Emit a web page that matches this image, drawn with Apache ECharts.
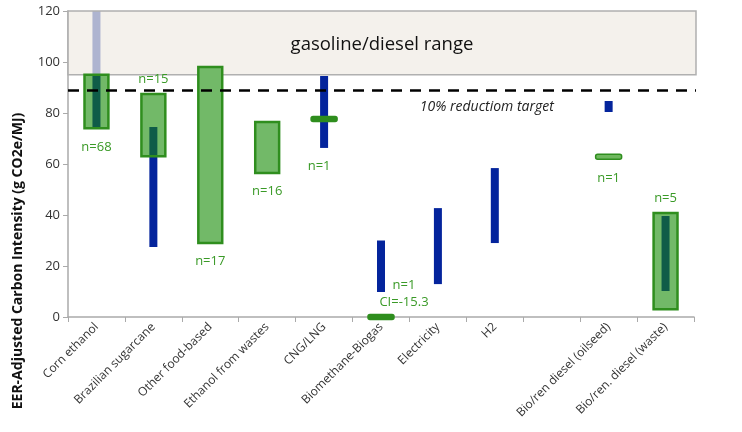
<!DOCTYPE html>
<html>
<head>
<meta charset="utf-8">
<script src="https://cdn.jsdelivr.net/npm/echarts@6/dist/echarts.min.js"></script>
<style>
  html, body { margin: 0; padding: 0; background: #fff; }
  #chart { width: 742px; height: 432px; }
</style>
</head>
<body>
<div id="chart"></div>
<script>
// data
var categories = ['Corn ethanol', 'Brazilian sugarcane', 'Other food-based', 'Ethanol from wastes',
  'CNG/LNG', 'Biomethane-Biogas', 'Electricity', 'H2', '', 'Bio/ren diesel (oilseed)', 'Bio/ren. diesel (waste)'];
// green boxes (spread of pathways)
var boxLow  = [74, 63, 29, 56.5, null, null, null, null, null, null, 3];
var boxHigh = [95, 87.5, 98, 76.5, null, null, null, null, null, null, 40.8];
// blue bars
var barLow  = [74, 27.5, null, null, 66.3, 9.8, 12.9, 29, null, 80.4, 10.2];
var barHigh = [120, 74.5, null, null, 94.5, 30, 42.7, 58.4, null, 84.7, 39.6];
// single pathways (n=1)
var singleValue = [null, null, null, null, 77.6, 0, null, null, null, 62.8, null];
var countLabels = ['n=68', 'n=15', 'n=17', 'n=16', 'n=1', 'n=1\nCI=-15.3', null, null, null, 'n=1', 'n=5'];
var gasolineRange = [95, 120];
var reductionTarget = 88.8;

var FONT = '"Open Sans", "Noto Sans", sans-serif';
var GREEN = '#2f8e1e';
var labelAbove = { 1: true, 5: true, 10: true };
var labelOnTick = { 5: true };
var labelShiftX = { 4: -5, 5: 23 };

var chart = echarts.init(document.getElementById('chart'));

function barRect(api, i, lo, hi, w) {
  var cx = api.coord([i, 0])[0];
  var t = api.coord([i, hi])[1], b = api.coord([i, lo])[1];
  return { x: cx - w / 2, y: t, width: w, height: b - t };
}

// blue bars, under the gasoline range
function renderBars(params, api) {
  var i = api.value(0);
  if (barLow[i] == null) return { type: 'group', children: [] };
  return { type: 'rect', shape: barRect(api, i, barLow[i], barHigh[i], 8), style: { fill: '#04249c' } };
}

// green boxes, overlaps, single ticks, counts
function renderBoxes(params, api) {
  var i = api.value(0);
  var band = api.size([1, 0])[0];
  var cx = api.coord([i, 0])[0];
  var boxW = band * 0.42, tickW = 26;
  var children = [];
  var top = Infinity, bottom = -Infinity;

  if (barLow[i] != null) {
    var r = barRect(api, i, barLow[i], barHigh[i], 8);
    top = Math.min(top, r.y); bottom = Math.max(bottom, r.y + r.height);
  }
  if (boxLow[i] != null) {
    var br = barRect(api, i, boxLow[i], boxHigh[i], boxW);
    children.push({ type: 'rect', shape: br, style: { fill: '#72b968' } });
    if (barLow[i] != null) {
      var lo = Math.max(barLow[i], boxLow[i]), hi = Math.min(barHigh[i], boxHigh[i]);
      if (hi > lo) {
        children.push({ type: 'rect', shape: barRect(api, i, lo, hi, 8), style: { fill: '#0f5c48' } });
      }
    }
    children.push({ type: 'rect', shape: br, style: { fill: 'none', stroke: GREEN, lineWidth: 2.5 } });
    top = Math.min(top, br.y); bottom = Math.max(bottom, br.y + br.height);
  }
  var sy = null;
  if (singleValue[i] != null) {
    sy = api.coord([i, singleValue[i]])[1];
    children.push({ type: 'rect', shape: { x: cx - tickW / 2, y: sy - 2.5, width: tickW, height: 5, r: 2 },
      style: { fill: i === 9 ? '#6fb85e' : GREEN, stroke: GREEN, lineWidth: 1.5 } });
    top = Math.min(top, sy - 2.5); bottom = Math.max(bottom, sy + 2.5);
  }
  if (countLabels[i]) {
    var above = labelAbove[i];
    var ly = above ? top - 6 : bottom + 10;
    if (labelOnTick[i]) ly = sy - 6;
    children.push({ type: 'text', x: cx + (labelShiftX[i] || 0), y: ly,
      style: { text: countLabels[i], fill: '#3a9a27', font: '13px ' + FONT,
        align: 'center', verticalAlign: above ? 'bottom' : 'top', lineHeight: 17 } });
  }
  return { type: 'group', children: children };
}

function renderRange(params, api) {
  var cs = params.coordSys;
  var yTop = api.coord([0, gasolineRange[1]])[1];
  var yBot = api.coord([0, gasolineRange[0]])[1];
  var x0 = cs.x, x1 = cs.x + cs.width + 2;
  return { type: 'group', children: [
    { type: 'rect', shape: { x: x0, y: yTop, width: x1 - x0, height: yBot - yTop },
      style: { fill: 'rgba(240,235,228,0.72)', stroke: '#b0b0b0', lineWidth: 1.5 } },
    { type: 'text', x: (x0 + x1) / 2, y: (yTop + yBot) / 2 + 2,
      style: { text: 'gasoline/diesel range', fill: '#111', font: '18.5px ' + FONT,
        align: 'center', verticalAlign: 'middle' } }
  ] };
}

function renderTarget(params, api) {
  var cs = params.coordSys;
  var yT = api.coord([0, reductionTarget])[1];
  var x0 = cs.x, x1 = cs.x + cs.width + 2;
  return { type: 'group', children: [
    { type: 'line', shape: { x1: x0, y1: yT, x2: x1, y2: yT },
      style: { stroke: '#000', lineWidth: 2.5, lineDash: [11, 8] } },
    { type: 'text', x: api.coord([7, 0])[0] - 8, y: yT + 16,
      style: { text: '10% reductiom target', fill: '#222', font: 'italic 14px ' + FONT,
        align: 'center', verticalAlign: 'middle' } }
  ] };
}

var idx = categories.map(function (c, i) { return [i]; });

var option = {
  animation: false,
  grid: { left: 68, right: 48, top: 11, bottom: 115 },
  xAxis: {
    type: 'category',
    data: categories,
    axisLine: { lineStyle: { color: '#aaa', width: 1.5 } },
    axisTick: { show: true, length: 5, lineStyle: { color: '#aaa' } },
    axisLabel: { rotate: 45, interval: 0, fontSize: 12, color: '#333', fontFamily: FONT, margin: 8 },
    splitLine: { show: false }
  },
  yAxis: {
    type: 'value', min: 0, max: 120, interval: 20,
    axisLine: { show: true, lineStyle: { color: '#aaa', width: 1.5 } },
    axisTick: { show: true, length: 5, lineStyle: { color: '#aaa' } },
    axisLabel: { fontSize: 13, color: '#333', fontFamily: FONT, margin: 8 },
    splitLine: { show: false }
  },
  graphic: [{
    type: 'text', x: 18, y: 261, rotation: Math.PI / 2,
    style: { text: 'EER-Adjusted Carbon Intensity (g CO2e/MJ)', fill: '#111',
      font: 'bold 14px ' + FONT, align: 'center', verticalAlign: 'middle' }
  }],
  series: [
    { type: 'custom', z: 2, renderItem: renderBars, data: idx },
    { type: 'custom', z: 3, renderItem: renderRange, data: [[0]] },
    { type: 'custom', z: 4, renderItem: renderBoxes, data: idx },
    { type: 'custom', z: 5, renderItem: renderTarget, data: [[0]] }
  ]
};
chart.setOption(option);
</script>
</body>
</html>
